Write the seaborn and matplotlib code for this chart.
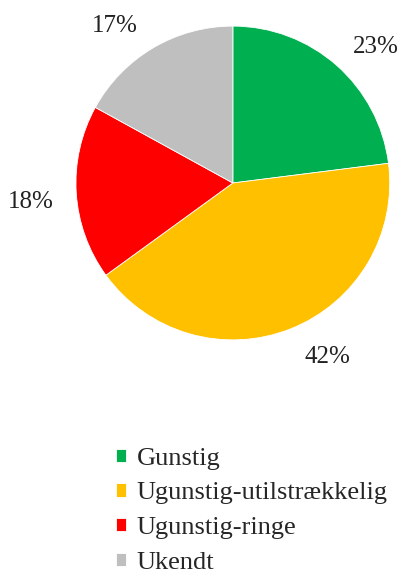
import matplotlib
matplotlib.use("Agg")
import matplotlib.pyplot as plt
import seaborn as sns

# Data
categories = ["Gunstig", "Ugunstig-utilstrækkelig", "Ugunstig-ringe", "Ukendt"]
shares = [23, 42, 18, 17]
colors = ["#00B050", "#FFC000", "#FF0000", "#BFBFBF"]

# small nudges of the percentage labels (data units), Excel-style placement
label_nudge = [(0.076, -0.076), (0.14, 0.064), (-0.03, -0.045), (-0.108, -0.083)]

sns.set_theme(style="white")
plt.rcParams["font.family"] = ["Liberation Serif", "DejaVu Serif"]

fig = plt.figure(figsize=(4.06, 5.80), dpi=100)
ax = fig.add_axes([0.187, 0.414, 0.773, 0.541])

wedges, texts, autotexts = ax.pie(
    shares,
    colors=colors,
    startangle=90,
    counterclock=False,
    autopct="%1.0f%%",
    pctdistance=1.26,
    wedgeprops=dict(linewidth=0.6, edgecolor="white"),
    textprops=dict(fontsize=18, color="#222222"),
)
for t, (dx, dy) in zip(autotexts, label_nudge):
    x, y = t.get_position()
    t.set_position((x + dx, y + dy))

ax.set_xlim(-1, 1)
ax.set_ylim(-1, 1)
ax.set_aspect("equal")

fig.legend(
    wedges, categories,
    loc="upper left", bbox_to_anchor=(0.285, 0.228),
    frameon=False, fontsize=19, borderpad=0,
    handlelength=0.4, handleheight=0.4, handletextpad=0.4,
    labelspacing=0.48, borderaxespad=0,
)

fig.savefig("out.png", dpi=100, facecolor="white")
